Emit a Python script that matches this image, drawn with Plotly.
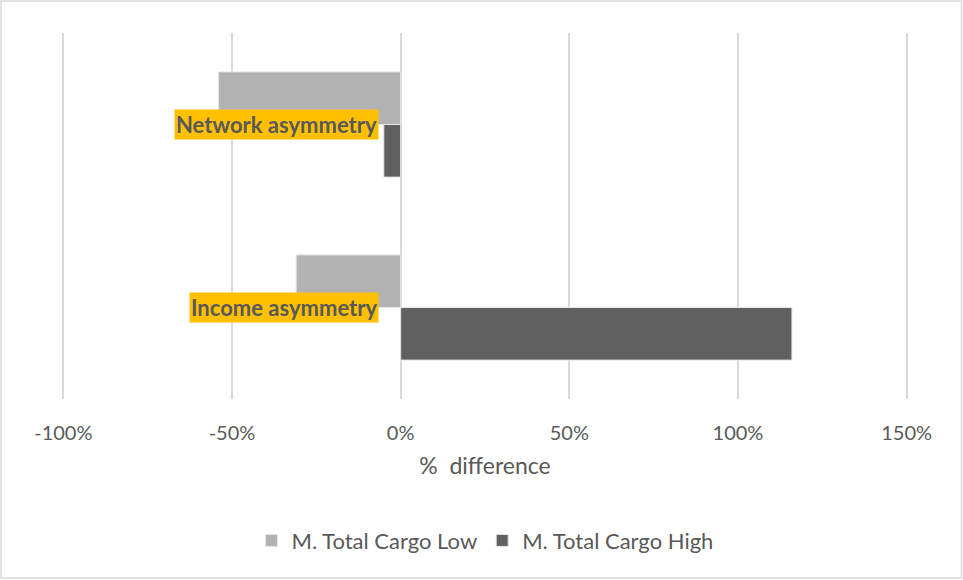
import plotly.graph_objects as go

# data (fractions, shown as %)
categories = ["Network asymmetry", "Income asymmetry"]
cargo_low = [-0.54, -0.31]
cargo_high = [-0.05, 1.16]
tick_vals = [-1.0, -0.5, 0.0, 0.5, 1.0, 1.5]
tick_text = ["-100%", "-50%", "0%", "50%", "100%", "150%"]

W, H = 963, 580
ML, MR, MT, MB = 60, 53, 33, 181
pw = W - ML - MR
ph = H - MT - MB

FONT = "Lato, 'Open Sans', sans-serif"
TXT = "#595959"

fig = go.Figure()
fig.add_trace(go.Bar(y=categories, x=cargo_low, orientation="h", name="M. Total Cargo Low",
                     marker=dict(color="#B2B2B2", line=dict(color="#E6E6E6", width=1))))
fig.add_trace(go.Bar(y=categories, x=cargo_high, orientation="h", name="M. Total Cargo High",
                     marker=dict(color="#606060", line=dict(color="#E6E6E6", width=1))))

# category labels sit on the zero line with an orange box
for c in categories:
    fig.add_annotation(x=0, y=c, xref="x", yref="y", text="<b>" + c + "</b>",
                       showarrow=False, xanchor="right", yanchor="middle", xshift=-22,
                       bgcolor="#FFC000", borderpad=1,
                       font=dict(family=FONT, size=22, color=TXT))

# outer border of the chart
fig.add_shape(type="rect", xref="paper", yref="paper",
              x0=(1 - ML) / pw, x1=(W - 1.5 - ML) / pw,
              y0=-(H - 2 - MT - ph) / ph, y1=(ph + MT - 1) / ph,
              line=dict(color="#D9D9D9", width=1.5), layer="below")

fig.update_layout(
    width=W, height=H,
    margin=dict(l=ML, r=MR, t=MT, b=MB),
    paper_bgcolor="white", plot_bgcolor="white",
    barmode="group", bargap=0.425, bargroupgap=0,
    font=dict(family=FONT, color=TXT, size=20),
    showlegend=True,
    legend=dict(orientation="h", x=0.5, xanchor="center", y=-0.387, yanchor="middle",
                font=dict(size=22, color=TXT), itemwidth=30),
    xaxis=dict(range=[-1.01, 1.51], tickvals=tick_vals, ticktext=tick_text,
               showgrid=True, gridcolor="#D9D9D9", gridwidth=1.5, zeroline=False,
               showline=False, ticks="", ticklabelstandoff=20,
               tickfont=dict(size=20, color=TXT),
               title=dict(text="%  difference", font=dict(size=23, color=TXT), standoff=14)),
    yaxis=dict(autorange="reversed", showticklabels=False, showgrid=False,
               zeroline=False, showline=False, ticks=""),
)

fig.write_html("out.html", config={"displayModeBar": False},
               post_script="document.body.style.margin='0';")
